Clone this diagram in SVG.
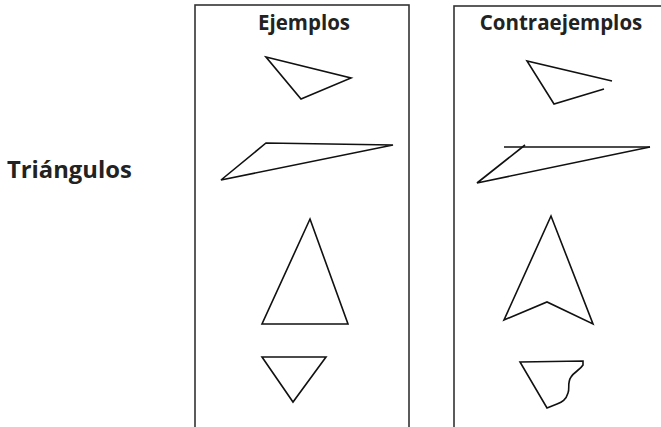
<svg xmlns="http://www.w3.org/2000/svg" width="661" height="427" viewBox="0 0 661 427">
<style>
.box{fill:none;stroke:#333;stroke-width:1.6}
.sh{fill:none;stroke:#111;stroke-width:1.6;stroke-linejoin:miter}
.t{font-family:"Open Sans","Liberation Sans",sans-serif;font-weight:bold;fill:#222}
</style>
<rect width="661" height="427" fill="#fff"/>
<g id="label-triangulos"><text class="t" x="7" y="178" font-size="23.8">Triángulos</text></g>
<g id="ejemplos">
<rect class="box" x="195" y="5" width="214" height="425"/>
<text class="t" x="304" y="30" font-size="20.5" text-anchor="middle">Ejemplos</text>
<polygon id="e1" class="sh" points="266,57 351,78 301,99"/>
<polygon id="e2" class="sh" points="266,143 393,145 221,180"/>
<polygon id="e3" class="sh" points="310,219 348,324 262,324"/>
<polygon id="e4" class="sh" points="262,357 326,357 293,402"/>
</g>
<g id="contraejemplos">
<rect class="box" x="454" y="6" width="220" height="425"/>
<text class="t" x="561" y="30" font-size="20.5" text-anchor="middle">Contraejemplos</text>
<polyline id="c1" class="sh" points="612,81 527,61 554,104 604,89"/>
<g id="c2"><line class="sh" x1="504" y1="147" x2="650" y2="147"/><polyline class="sh" points="650,147 477,183 525,145"/></g>
<polygon id="c3" class="sh" points="551,216 593,324 547,302 504,320"/>
<path id="c4" class="sh" d="M520,362 L583,361 L583,365 C580,370 574,372 571,377 C567,383 570,388 568,393 C566,400 562,402 557,404 L547,408 Z"/>
</g>
</svg>
